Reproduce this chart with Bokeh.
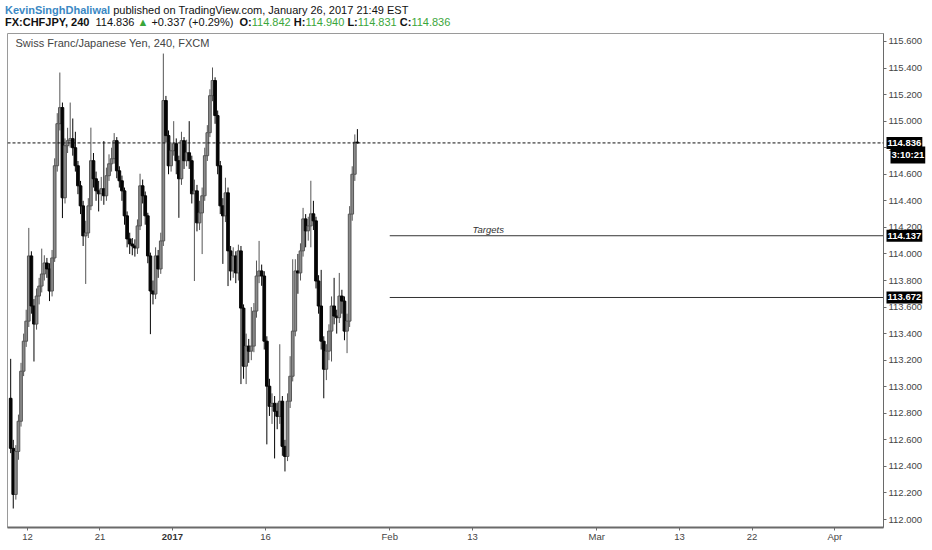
import pandas as pd
from bokeh.plotting import figure
from bokeh.models import (ColumnDataSource, FixedTicker, Span, Label, Div,
                          NumeralTickFormatter, Range1d)
from bokeh.core.properties import value
from bokeh.layouts import column
from bokeh.embed import file_html
from bokeh.resources import INLINE

# ---------------- data (4 candles per trading day) ----------------
opens = [112.913, 112.536, 112.189, 112.513, 112.740, 113.117, 113.343, 113.494, 113.985, 113.608,
         113.472, 113.683, 113.758, 113.849, 113.932, 113.887, 113.721, 113.970, 114.664, 114.981,
         115.102, 114.423, 114.815, 114.853, 114.868, 114.800, 114.664, 114.513, 114.362, 114.136,
         114.158, 114.362, 114.702, 114.566, 114.475, 114.453, 114.491, 114.438, 114.589, 114.679,
         114.717, 114.853, 114.626, 114.551, 114.475, 114.287, 114.113, 114.075, 114.060, 114.045,
         114.211, 114.513, 114.438, 114.287, 113.985, 113.721, 113.698, 113.985, 113.887, 114.098,
         115.155, 114.891, 114.664, 114.777, 114.830, 114.702, 114.566, 114.853, 114.702, 114.762,
         114.702, 114.453, 114.475, 114.234, 114.309, 114.438, 114.740, 114.913, 115.192, 115.306,
         115.042, 114.664, 114.362, 114.287, 114.460, 114.023, 113.872, 113.985, 113.857, 114.023,
         113.592, 113.155, 113.306, 113.268, 113.306, 113.570, 113.834, 113.872, 113.834, 113.343,
         113.004, 112.853, 112.875, 112.815, 112.777, 112.891, 112.551, 112.475, 112.891, 113.079,
         113.419, 113.872, 113.857, 114.023, 114.264, 114.174, 114.211, 114.302, 114.249, 113.796,
         113.608, 113.343, 113.132, 113.268, 113.419, 113.608, 113.532, 113.520, 113.683, 113.645,
         113.419, 113.494, 114.300, 114.600, 114.842]

closes = [112.536, 112.189, 112.513, 112.740, 113.117, 113.343, 113.494, 113.985, 113.608, 113.472,
          113.683, 113.758, 113.849, 113.932, 113.887, 113.721, 113.970, 114.664, 114.981, 115.102,
          114.423, 114.815, 114.853, 114.868, 114.800, 114.664, 114.513, 114.362, 114.136, 114.158,
          114.362, 114.702, 114.566, 114.475, 114.453, 114.491, 114.438, 114.589, 114.679, 114.717,
          114.853, 114.626, 114.551, 114.475, 114.287, 114.113, 114.075, 114.060, 114.045, 114.211,
          114.513, 114.438, 114.287, 113.985, 113.721, 113.698, 113.985, 113.887, 114.098, 115.155,
          114.891, 114.664, 114.777, 114.830, 114.702, 114.566, 114.853, 114.702, 114.762, 114.702,
          114.453, 114.475, 114.234, 114.309, 114.438, 114.740, 114.913, 115.192, 115.306, 115.042,
          114.664, 114.362, 114.287, 114.460, 114.023, 113.872, 113.985, 113.857, 114.023, 113.592,
          113.155, 113.306, 113.268, 113.306, 113.570, 113.834, 113.872, 113.834, 113.343, 113.004,
          112.853, 112.875, 112.815, 112.777, 112.891, 112.551, 112.475, 112.891, 113.079, 113.419,
          113.872, 113.857, 114.023, 114.264, 114.174, 114.211, 114.302, 114.249, 113.796, 113.608,
          113.343, 113.132, 113.268, 113.419, 113.608, 113.532, 113.520, 113.683, 113.645, 113.419,
          113.494, 114.300, 114.600, 114.842, 114.836]

highs = [113.21, 112.60, 112.56, 112.79, 113.18, 113.40, 113.58, 114.196, 114.02, 113.66,
         113.74, 113.82, 114.04, 113.99, 113.97, 113.93, 114.03, 114.72, 115.06, 115.366,
         115.14, 114.87, 114.95, 115.14, 115.02, 114.92, 114.70, 114.55, 114.40, 114.25,
         114.42, 114.951, 114.76, 114.62, 114.55, 114.58, 114.85, 114.65, 114.75, 114.80,
         114.91, 114.88, 114.66, 114.59, 114.50, 114.32, 114.16, 114.12, 114.11, 114.26,
         114.604, 114.56, 114.47, 114.31, 114.01, 113.80, 114.05, 114.03, 114.16, 115.509,
         115.19, 114.93, 114.84, 115.00, 114.87, 114.74, 114.92, 114.88, 114.86, 115.00,
         114.74, 114.56, 114.52, 114.40, 114.50, 114.80, 114.97, 115.24, 115.404, 115.33,
         115.08, 114.70, 114.42, 114.574, 114.50, 114.06, 114.05, 114.02, 114.07, 114.06,
         113.62, 113.40, 113.36, 113.60, 113.63, 113.95, 114.098, 113.92, 113.87, 113.38,
         113.06, 112.95, 112.93, 112.88, 113.32, 112.93, 112.60, 112.95, 113.23, 113.96,
         113.96, 114.00, 114.08, 114.347, 114.30, 114.28, 114.551, 114.40, 114.28, 113.84,
         113.88, 113.38, 113.32, 113.47, 113.68, 113.82, 113.58, 113.857, 113.73, 113.68,
         113.55, 114.36, 114.66, 114.90, 114.940]

lows = [112.50, 112.083, 112.15, 112.45, 112.70, 113.08, 113.30, 113.45, 113.55, 113.19,
        113.43, 113.62, 113.71, 113.80, 113.82, 113.645, 113.68, 113.94, 114.62, 114.93,
        114.27, 114.38, 114.76, 114.80, 114.74, 114.62, 114.45, 114.30, 114.06, 113.774,
        114.12, 114.33, 114.50, 114.40, 114.32, 114.40, 114.37, 114.40, 114.55, 114.62,
        114.68, 114.57, 114.50, 114.40, 114.22, 114.05, 114.00, 113.99, 113.98, 114.00,
        114.18, 114.38, 114.22, 113.93, 113.396, 113.62, 113.66, 113.82, 113.85, 114.06,
        114.84, 114.60, 114.62, 114.74, 114.60, 114.272, 114.52, 114.64, 114.66, 114.64,
        114.38, 113.796, 114.17, 114.18, 113.999, 114.40, 114.70, 114.88, 115.15, 114.98,
        114.60, 114.30, 113.925, 114.24, 113.758, 113.80, 113.82, 113.78, 113.80, 113.02,
        113.06, 113.02, 113.18, 113.20, 113.26, 113.52, 113.78, 113.76, 113.28, 112.566,
        112.78, 112.72, 112.46, 112.68, 112.72, 112.48, 112.362, 112.44, 112.84, 113.04,
        113.38, 113.70, 113.80, 113.98, 114.05, 114.10, 114.05, 114.18, 113.74, 113.55,
        113.28, 112.913, 113.05, 113.20, 113.19, 113.47, 113.40, 113.48, 113.55, 113.35,
        113.253, 113.45, 114.25, 114.55, 114.831]

first_bar_day = "2016-12-08"
bars_per_day = 4
first_bar_in_day = 1
holidays = ["2016-12-26", "2017-01-02"]

tick_dates = ["2016-12-12", "2016-12-21", "2017-01-03", "2017-01-16", "2017-02-01",
              "2017-02-13", "2017-03-01", "2017-03-13", "2017-03-22", "2017-04-03"]
tick_labels = ["12", "21", "2017", "16", "Feb", "13", "Mar", "13", "22", "Apr"]
bold_tick = "2017"

price_ticks = [112.0, 112.2, 112.4, 112.6, 112.8, 113.0, 113.2, 113.4, 113.6,
               113.8, 114.0, 114.2, 114.4, 114.6, 114.8, 115.0, 115.2, 115.4, 115.6]

last_price = 114.836
countdown = "3:10:21"
targets = [114.137, 113.672]
target_start = "2017-02-01"
target_text_day = "2017-02-13"
target_text = "Targets"

user = "KevinSinghDhaliwal"
published = " published on TradingView.com, January 26, 2017 21:49 EST"
symbol = "FX:CHFJPY, 240"
change = "+0.337 (+0.29%)"
ohlc_names = ["O", "H", "L", "C"]
ohlc_values = ["114.842", "114.940", "114.831", "114.836"]
chart_title = "Swiss Franc/Japanese Yen, 240, FXCM"

# ---------------- trading-day calendar ----------------
calendar = [d for d in pd.bdate_range("2016-12-01", "2017-04-30")
            if d.strftime("%Y-%m-%d") not in holidays]
origin = calendar.index(pd.Timestamp("2016-12-12"))


def slot(date):
    return calendar.index(pd.Timestamp(date)) - origin


start_slot = slot(first_bar_day)
xs = [start_slot + (first_bar_in_day + i + 0.5) / bars_per_day for i in range(len(closes))]
up = [c >= o for o, c in zip(opens, closes)]
src = ColumnDataSource(dict(
    x=xs, open=opens, close=closes, high=highs, low=lows,
    top=[max(o, c) for o, c in zip(opens, closes)],
    bottom=[min(o, c) for o, c in zip(opens, closes)],
    fill=["#8a8a8a" if u else "#050505" for u in up],
    line=["#555555" if u else "#050505" for u in up],
))

FONT = "Liberation Sans"
x_start, x_end = -1.932, 82.705
y_start, y_end = 111.940, 115.660

p = figure(width=930, height=511, x_range=Range1d(x_start, x_end),
           y_range=Range1d(y_start, y_end), y_axis_location="right",
           output_backend="svg", toolbar_location=None,
           min_border_left=7, min_border_right=47, min_border_top=0, min_border_bottom=14,
           background_fill_color="white", border_fill_color="white")
p.outline_line_color = "#9a9a9a"
p.xgrid.visible = False
p.ygrid.visible = False

p.segment(x0="x", x1="x", y0="low", y1="high", line_color="line", line_width=1, source=src)
p.vbar(x="x", width=0.26, top="top", bottom="bottom", fill_color="fill",
       line_color="line", line_width=1, source=src)

# axes
tick_x = [slot(d) for d in tick_dates]
p.xaxis.ticker = FixedTicker(ticks=tick_x)
p.xaxis.major_label_overrides = {t: ("" if l == bold_tick else l) for t, l in zip(tick_x, tick_labels)}
p.xaxis.minor_tick_line_color = None
p.xaxis.major_tick_in = 0
p.xaxis.major_tick_out = 3
p.xaxis.major_label_standoff = 0
p.xaxis.axis_label_standoff = 0
p.xaxis.axis_line_color = "#6a6a6a"
p.xaxis.axis_line_width = 2
p.xaxis.major_tick_line_color = "#6a6a6a"
p.xaxis.major_label_text_font = FONT
p.xaxis.major_label_text_font_size = "9.5px"
p.xaxis.major_label_text_color = "#444444"

p.yaxis.ticker = FixedTicker(ticks=price_ticks)
p.yaxis.formatter = NumeralTickFormatter(format="0.000")
p.yaxis.minor_tick_line_color = None
p.yaxis.major_tick_in = 0
p.yaxis.major_tick_out = 3
p.yaxis.major_label_standoff = 2
p.yaxis.axis_label_standoff = 0
p.yaxis.axis_line_color = "#6a6a6a"
p.yaxis.major_tick_line_color = "#6a6a6a"
p.yaxis.major_label_text_font = FONT
p.yaxis.major_label_text_font_size = "9.5px"
p.yaxis.major_label_text_color = "#444444"

# bold year label under the axis (overlay level glyph, drawn outside the frame)
bt = tick_x[tick_labels.index(bold_tick)]
p.text(x=[bt], y=[y_start], y_offset=9, text=[bold_tick], text_align="center",
       text_baseline="middle", text_font=value(FONT), text_font_size="9.5px",
       text_font_style="bold", text_color="#333333", level="overlay")

# last price dashed line
p.add_layout(Span(location=last_price, dimension="width", line_color="#111111",
                  line_dash="3 2", line_width=1))

# target lines
p.ray(x=[slot(target_start)] * len(targets), y=targets, length=0, angle=0,
      line_color="#333333", line_width=1)
p.add_layout(Label(x=slot(target_text_day), y=targets[0], y_offset=1, text=target_text,
                   text_font=FONT, text_font_size="9.5px", text_font_style="italic",
                   text_color="#333333", text_baseline="bottom", text_align="left"))

# chart title inside
p.add_layout(Label(x=x_start, y=y_end, x_offset=8, y_offset=-3, text=chart_title,
                   text_font=FONT, text_font_size="11px", text_color="#444444",
                   text_baseline="top", text_align="left"))

# price boxes on the axis (overlay level glyphs)
box_prices = [last_price] + targets
box_style = dict(text_font=value(FONT), text_font_size="9.5px", text_font_style="bold",
                 text_color="white", background_fill_color="black", padding=(1, 3),
                 text_baseline="middle", text_align="left", level="overlay")
p.text(x=[x_end] * len(box_prices), y=box_prices, x_offset=3,
       text=[f"{v:.3f}" for v in box_prices], **box_style)
p.text(x=[x_end] * 1, y=[last_price], x_offset=7, y_offset=12, text=[countdown], **box_style)

# header
green = "#3aa63a"
ohlc_html = " ".join(f"<b>{n}:</b><span style='color:{green}'>{v}</span>"
                     for n, v in zip(ohlc_names, ohlc_values))
header_html = (
    f"<div><span style='color:#3b88c3;font-weight:bold'>{user}</span>{published}</div>"
    f"<div><b>{symbol}</b>&nbsp; {last_price:.3f} <span style='color:{green}'>&#9650;</span> "
    f"{change} &nbsp;{ohlc_html}</div>"
)
header = Div(text=header_html, width=930, height=23,
             styles={"font-family": FONT, "font-size": "11px", "line-height": "11.5px",
                     "color": "#111111", "white-space": "nowrap"})

layout = column(header, p, spacing=0)
open("out.html", "w").write(file_html(layout, INLINE))
